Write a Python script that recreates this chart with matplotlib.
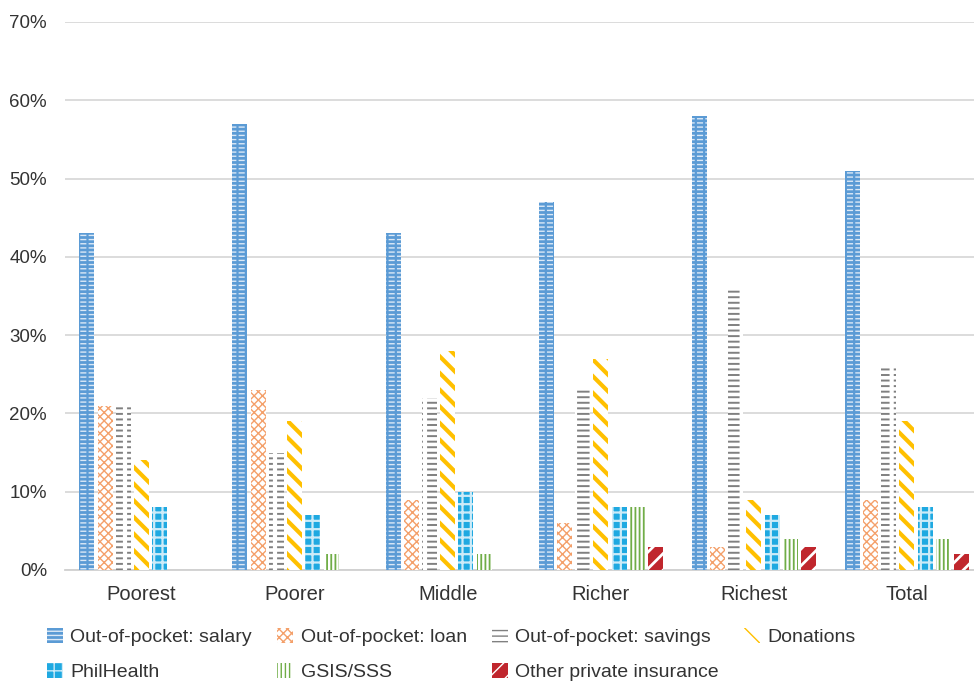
import numpy as np
import matplotlib as mpl
import matplotlib.pyplot as plt
from matplotlib.ticker import PercentFormatter

plt.rcParams['font.family'] = ['Liberation Sans', 'DejaVu Sans']

groups = ['Poorest', 'Poorer', 'Middle', 'Richer', 'Richest', 'Total']

salary = [43, 57, 43, 47, 58, 51]
loan = [21, 23, 9, 6, 3, 9]
savings = [21, 15, 22, 23, 36, 26]
donations = [14, 19, 28, 27, 9, 19]
philhealth = [8, 7, 10, 8, 7, 8]
gsis_sss = [0, 2, 2, 8, 4, 4]
other_private = [0, 0, 0, 3, 3, 2]

series_names = ['Out-of-pocket: salary', 'Out-of-pocket: loan', 'Out-of-pocket: savings',
                'Donations', 'PhilHealth', 'GSIS/SSS', 'Other private insurance']
series_values = [salary, loan, savings, donations, philhealth, gsis_sss, other_private]

# face colour, hatch colour, hatch pattern, hatch line width,
# and an optional vertical "breaker" hatch that cuts lines into dashes
styles = [
    ('#5B9BD5', '#DCE9F6', '----', 1.0, ('#5B9BD5', '||', 1.6)),
    ('white', '#F4A06A', 'xxxx', 1.0, None),
    ('white', '#808080', '---', 1.4, ('white', '|', 3.0)),
    ('white', '#FFC000', '\\\\', 3.0, None),
    ('#1FA9E1', '#CDEBF8', '++', 1.6, None),
    ('white', '#70AD47', '||||', 1.3, None),
    ('#C0262D', 'white', '//', 2.0, None),
]


def hatched_bar(ax, xs, heights, width, face, hcol, hatch, hlw, **kw):
    with mpl.rc_context({'hatch.linewidth': hlw}):
        bars = ax.bar(xs, heights, width=width, color=face, edgecolor=hcol,
                      hatch=hatch, linewidth=0, **kw)
        for b in bars:
            if hasattr(b, 'set_hatch_linewidth'):
                b.set_hatch_linewidth(hlw)
    return bars


W, H = 974, 681
fig = plt.figure(figsize=(W / 100, H / 100), dpi=100)
ax = fig.add_axes([65 / W, 1 - 570 / H, (974 - 65) / W, (570 - 22) / H])

x = np.arange(len(groups))
step = 0.119
bar_w = 0.098
handles = []
for i, (name, vals) in enumerate(zip(series_names, series_values)):
    face, hcol, hatch, hlw, breaker = styles[i]
    xs = x + (i - 3) * step
    heights = np.array(vals) / 100
    bars = hatched_bar(ax, xs, heights, bar_w, face, hcol, hatch, hlw,
                       label=name, zorder=3)
    if breaker is not None:
        bcol, bhatch, blw = breaker
        hatched_bar(ax, xs, heights, bar_w, 'none', bcol, bhatch, blw, zorder=4)
    handles.append(bars)

ax.set_ylim(0, 0.7)
ax.set_xlim(-0.5, 5.5 - 9.5 / 153)
ax.set_yticks(np.arange(0, 0.71, 0.1))
ax.yaxis.set_major_formatter(PercentFormatter(1.0, decimals=0))
ax.set_xticks(x)
ax.set_xticklabels(groups)
ax.tick_params(axis='both', length=0, labelsize=13.5, colors='#333333')
ax.tick_params(axis='x', labelsize=14.5, pad=11)
ax.tick_params(axis='y', pad=13)
ax.grid(axis='y', color='#D9D9D9', linewidth=1.3, zorder=0)
for side in ['top', 'right', 'left']:
    ax.spines[side].set_visible(False)
ax.spines['bottom'].set_color('#D0D0D0')
ax.spines['bottom'].set_linewidth(1.3)
ax.set_axisbelow(True)

# legend laid out column by column: 4 columns, 2 rows
order = [0, 4, 1, 5, 2, 6, 3]
leg = fig.legend([handles[k] for k in order], [series_names[k] for k in order],
                 loc='upper left', bbox_to_anchor=(47 / W, 1 - 628 / H), ncol=4,
                 frameon=False, fontsize=14, handlelength=0.8, handleheight=0.8,
                 handletextpad=0.4, columnspacing=1.3, labelspacing=0.85,
                 borderpad=0, borderaxespad=0)
for t in leg.get_texts():
    t.set_color('#333333')

fig.savefig('out.png', dpi=100)
